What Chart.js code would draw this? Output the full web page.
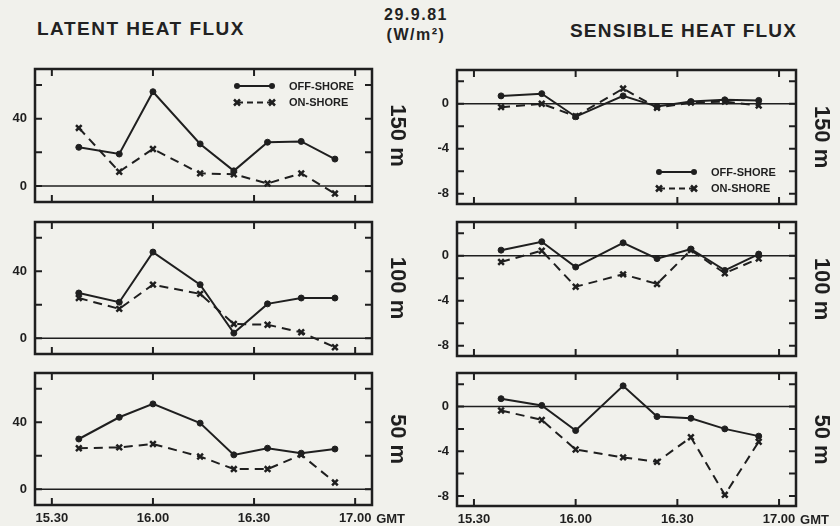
<!DOCTYPE html>
<html>
<head>
<meta charset="utf-8">
<title>Latent and sensible heat flux, 29.9.81</title>
<script src="https://cdn.jsdelivr.net/npm/chart.js@4.4.1/dist/chart.umd.min.js"></script>
<style>
  html, body { margin: 0; padding: 0; }
  body {
    width: 840px; height: 526px; position: relative; overflow: hidden;
    background: #f1f1ec; color: #222;
    font-family: "Liberation Sans", Arial, sans-serif; font-weight: bold;
  }
  .title { position: absolute; white-space: nowrap; line-height: 1; }
  canvas { position: absolute; }
</style>
</head>
<body>
<div class="title" style="left:37px; top:19px; font-size:19px; letter-spacing:1.5px;">LATENT HEAT FLUX</div>
<div class="title" style="left:570px; top:21px; font-size:19px; letter-spacing:1.2px;">SENSIBLE HEAT FLUX</div>
<div class="title" style="left:364px; top:7px; width:104px; text-align:center; font-size:16px; letter-spacing:1.5px;">29.9.81</div>
<div class="title" style="left:364px; top:27px; width:104px; text-align:center; font-size:16px; letter-spacing:1.5px;">(W/m²)</div>

<canvas id="latent150"></canvas>
<canvas id="latent100"></canvas>
<canvas id="latent50"></canvas>
<canvas id="sensible150"></canvas>
<canvas id="sensible100"></canvas>
<canvas id="sensible50"></canvas>

<script>
// observation times (GMT, hh.mm) and axis labels
const sampleTimes = ['15.38', '15.50', '16.00', '16.14', '16.24', '16.34', '16.44', '16.54'];
const axisTimes = ['15.30', '16.00', '16.30', '17.00'];

// latent heat flux, W/m2
const latentOff150 = [23, 19, 56, 25, 9, 26, 26.5, 16];
const latentOn150 = [34.5, 8.5, 22, 7.5, 7, 1.5, 7.5, -4.5];
const latentOff100 = [27, 21.5, 51.5, 32, 3, 20.5, 24, 24];
const latentOn100 = [24, 17.5, 32, 26.5, 8.5, 8, 3.5, -5.5];
const latentOff50 = [30, 43, 51, 39.5, 20.5, 24.5, 21.5, 24];
const latentOn50 = [24.5, 25, 27, 19.5, 12, 12, 20.5, 4];

// sensible heat flux, W/m2
const sensibleOff150 = [0.7, 0.9, -1.15, 0.7, -0.25, 0.2, 0.35, 0.3];
const sensibleOn150 = [-0.3, 0, -1.1, 1.35, -0.35, 0.1, 0.2, -0.15];
const sensibleOff100 = [0.5, 1.25, -1.0, 1.15, -0.25, 0.6, -1.3, 0.15];
const sensibleOn100 = [-0.55, 0.45, -2.75, -1.65, -2.5, 0.5, -1.55, -0.25];
const sensibleOff50 = [0.7, 0.1, -2.15, 1.85, -0.9, -1.05, -2.0, -2.65];
const sensibleOn50 = [-0.35, -1.2, -3.85, -4.55, -4.95, -2.75, -7.9, -3.15];

// y ticks
const latentTicks = [0, 20, 40, 60];
const latentTickLabels = ['0', '', '40', ''];
const sensibleTicks = [-8, -6, -4, -2, 0, 2];
const sensibleTickLabels = ['-8', '', '-4', '', '0', ''];

const seriesNames = ['OFF-SHORE', 'ON-SHORE'];

const INK = '#1f1f1f';
const FONT = '"Liberation Sans", Arial, sans-serif';
const PAD = 18;
const Y_AXIS_W = 35;
const RIGHT_EXTRA = 44;

function toMinutes(t) {
    const [h, m] = t.split('.').map(Number);
    return h * 60 + m;
}
const startMin = toMinutes(axisTimes[0]);
const sampleX = sampleTimes.map(t => toMinutes(t) - startMin);
const axisX = axisTimes.map(t => toMinutes(t) - startMin);

function series(label, values, onShore) {
    return {
        label: label,
        data: values.map((v, i) => ({ x: sampleX[i], y: v })),
        borderColor: INK,
        backgroundColor: INK,
        borderWidth: 2,
        borderDash: onShore ? [9, 6] : [],
        pointStyle: onShore ? 'crossRot' : 'circle',
        pointRadius: onShore ? 4 : 3,
        pointBorderWidth: onShore ? 2.5 : 1,
        tension: 0
    };
}

function drawMarker(ctx, onShore, x, y) {
    if (onShore) {
        ctx.beginPath();
        ctx.moveTo(x - 3, y - 3); ctx.lineTo(x + 3, y + 3);
        ctx.moveTo(x + 3, y - 3); ctx.lineTo(x - 3, y + 3);
        ctx.lineWidth = 2.5;
        ctx.setLineDash([]);
        ctx.stroke();
    } else {
        ctx.beginPath();
        ctx.arc(x, y, 3, 0, Math.PI * 2);
        ctx.fill();
    }
}

const framePlugin = {
    id: 'frame',
    beforeDatasetsDraw(chart) {
        const { ctx, chartArea: a, scales: { y } } = chart;
        const y0 = y.getPixelForValue(0);
        ctx.save();
        ctx.strokeStyle = INK;
        ctx.lineWidth = 1.5;
        ctx.beginPath();
        ctx.moveTo(a.left, y0);
        ctx.lineTo(a.right, y0);
        ctx.stroke();
        ctx.restore();
    },
    afterDraw(chart, args, opts) {
        const { ctx, chartArea: a, scales: { x, y } } = chart;
        ctx.save();
        ctx.strokeStyle = INK;
        ctx.fillStyle = INK;

        // inward tick marks on all four sides
        ctx.lineWidth = 2;
        ctx.beginPath();
        x.ticks.forEach(t => {
            const px = x.getPixelForValue(t.value);
            ctx.moveTo(px, a.top); ctx.lineTo(px, a.top + 7);
            ctx.moveTo(px, a.bottom); ctx.lineTo(px, a.bottom - 7);
        });
        y.ticks.forEach(t => {
            const py = y.getPixelForValue(t.value);
            ctx.moveTo(a.left, py); ctx.lineTo(a.left + 7, py);
            ctx.moveTo(a.right, py); ctx.lineTo(a.right - 7, py);
        });
        ctx.stroke();

        ctx.lineWidth = 2.5;
        ctx.strokeRect(a.left, a.top, a.right - a.left, a.bottom - a.top);

        // legend inside the box
        if (opts.legend) {
            ctx.font = 'bold 11px ' + FONT;
            ctx.textBaseline = 'middle';
            ctx.textAlign = 'left';
            seriesNames.forEach((name, i) => {
                const onShore = i === 1;
                const lx = a.left + opts.legend.x;
                const ly = a.top + opts.legend.y + i * 16.5;
                ctx.lineWidth = 2;
                ctx.setLineDash(onShore ? [6, 4] : []);
                ctx.beginPath();
                ctx.moveTo(lx, ly); ctx.lineTo(lx + 35, ly);
                ctx.stroke();
                drawMarker(ctx, onShore, lx, ly);
                drawMarker(ctx, onShore, lx + 35, ly);
                ctx.fillText(name, lx + 52, ly + 0.5);
            });
            ctx.setLineDash([]);
        }

        if (opts.gmt) {
            ctx.font = 'bold 13px ' + FONT;
            ctx.textBaseline = 'middle';
            ctx.textAlign = 'left';
            ctx.fillText('GMT', x.getPixelForValue(axisX[axisX.length - 1]) + 21, a.bottom + 14);
        }

        // height label on the right, reading downwards
        ctx.translate(a.right + 25, (a.top + a.bottom) / 2);
        ctx.rotate(Math.PI / 2);
        ctx.font = 'bold 22px ' + FONT;
        ctx.textAlign = 'center';
        ctx.textBaseline = 'middle';
        ctx.fillText(opts.side, 0, 0);
        ctx.restore();
    }
};

function makePanel(id, box, yRange, yTicks, yLabels, off, on, extra) {
    const canvas = document.getElementById(id);
    const bottom = !!extra.bottom;
    const w = Y_AXIS_W + (box.r - box.l) + RIGHT_EXTRA;
    const h = PAD + (box.b - box.t) + (bottom ? 24 : PAD);
    canvas.width = w;
    canvas.height = h;
    canvas.style.left = (box.l - Y_AXIS_W) + 'px';
    canvas.style.top = (box.t - PAD) + 'px';

    const tickFont = { family: FONT, weight: 'bold', size: 13 };

    return new Chart(canvas, {
        type: 'line',
        data: {
            datasets: [series(seriesNames[0], off, false), series(seriesNames[1], on, true)]
        },
        options: {
            responsive: false,
            animation: false,
            devicePixelRatio: 1,
            layout: { padding: { top: PAD, right: RIGHT_EXTRA, bottom: bottom ? 0 : PAD, left: 0 } },
            plugins: {
                legend: { display: false },
                tooltip: { enabled: false },
                frame: { side: extra.side, legend: extra.legend, gmt: bottom }
            },
            scales: {
                x: {
                    type: 'linear',
                    min: -5,
                    max: 95,
                    grid: { display: false, drawTicks: false },
                    border: { display: false },
                    afterBuildTicks: s => { s.ticks = axisX.map(v => ({ value: v })); },
                    afterFit: s => { s.height = bottom ? 24 : 0; },
                    ticks: {
                        display: bottom,
                        autoSkip: false,
                        maxRotation: 0,
                        padding: 6,
                        color: INK,
                        font: tickFont,
                        callback: (v, i) => axisTimes[i]
                    }
                },
                y: {
                    min: yRange[0],
                    max: yRange[1],
                    grid: { display: false, drawTicks: false },
                    border: { display: false },
                    afterBuildTicks: s => { s.ticks = yTicks.map(v => ({ value: v })); },
                    afterFit: s => { s.width = Y_AXIS_W; },
                    ticks: {
                        padding: 8,
                        color: INK,
                        font: tickFont,
                        callback: (v, i) => yLabels[i]
                    }
                }
            }
        },
        plugins: [framePlugin]
    });
}

const latentRange = [-9.5, 69.5];
const sensibleRange = [-8.9, 3.0];

makePanel('latent150', { l: 35, r: 372, t: 69, b: 202 }, latentRange, latentTicks, latentTickLabels,
    latentOff150, latentOn150, { side: '150 m', legend: { x: 202, y: 17 } });
makePanel('latent100', { l: 35, r: 372, t: 222, b: 354 }, latentRange, latentTicks, latentTickLabels,
    latentOff100, latentOn100, { side: '100 m' });
makePanel('latent50', { l: 35, r: 372, t: 373, b: 505 }, latentRange, latentTicks, latentTickLabels,
    latentOff50, latentOn50, { side: '50 m', bottom: true });

makePanel('sensible150', { l: 457, r: 796, t: 70, b: 204 }, sensibleRange, sensibleTicks, sensibleTickLabels,
    sensibleOff150, sensibleOn150, { side: '150 m', legend: { x: 202, y: 102 } });
makePanel('sensible100', { l: 457, r: 796, t: 222, b: 356 }, sensibleRange, sensibleTicks, sensibleTickLabels,
    sensibleOff100, sensibleOn100, { side: '100 m' });
makePanel('sensible50', { l: 457, r: 796, t: 373, b: 506 }, sensibleRange, sensibleTicks, sensibleTickLabels,
    sensibleOff50, sensibleOn50, { side: '50 m', bottom: true });
</script>
</body>
</html>
